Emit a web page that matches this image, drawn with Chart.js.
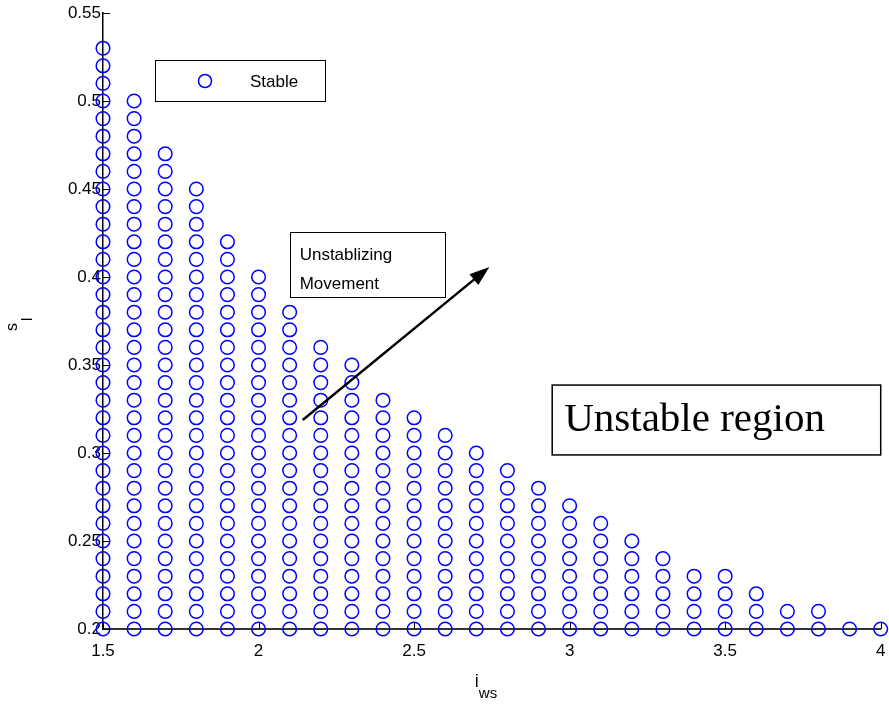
<!DOCTYPE html>
<html>
<head>
<meta charset="utf-8">
<script src="https://cdn.jsdelivr.net/npm/chart.js@4/dist/chart.umd.min.js"></script>
<style>
  body { margin: 0; background: #fff; }
  canvas { display: block; }
</style>
</head>
<body>
<canvas id="graph" width="889" height="704"></canvas>
<script>
// i_ws columns and the highest stable s_l in each one
const iwsValues = [1.5, 1.6, 1.7, 1.8, 1.9, 2.0, 2.1, 2.2, 2.3, 2.4, 2.5, 2.6, 2.7,
                   2.8, 2.9, 3.0, 3.1, 3.2, 3.3, 3.4, 3.5, 3.6, 3.7, 3.8, 3.9, 4.0];
const slTop = [0.53, 0.50, 0.47, 0.45, 0.42, 0.40, 0.38, 0.36, 0.35, 0.33, 0.32, 0.31, 0.30,
               0.29, 0.28, 0.27, 0.26, 0.25, 0.24, 0.23, 0.23, 0.22, 0.21, 0.21, 0.20, 0.20];
const slBottom = 0.20;
const slStep = 0.01;   // grid spacing of the stable points

const xTicks = [1.5, 2, 2.5, 3, 3.5, 4];
const yTicks = [0.2, 0.25, 0.3, 0.35, 0.4, 0.45, 0.5, 0.55];

const legendLabel = 'Stable';
const arrowText = ['Unstablizing', 'Movement'];
const regionText = 'Unstable region';

// scatter points: every grid point from the bottom up to each column's top
const points = [];
iwsValues.forEach(function (x, i) {
  const n = Math.round((slTop[i] - slBottom) / slStep);
  for (let k = 0; k <= n; k++) {
    points.push({ x: x, y: +(slBottom + k * slStep).toFixed(2) });
  }
});

const BLUE = '#0000ff';
const SANS = '"Liberation Sans", Arial, sans-serif';
const SERIF = '"Liberation Serif", "Times New Roman", serif';

const extras = {
  id: 'extras',
  afterDraw: function (chart) {
    const c = chart.ctx;
    const xs = chart.scales.x, ys = chart.scales.y;
    const a = chart.chartArea;
    const px = v => xs.getPixelForValue(v);
    const py = v => ys.getPixelForValue(v);
    c.save();

    // inward tick marks
    c.strokeStyle = '#000';
    c.lineWidth = 1;
    yTicks.forEach(function (v) {
      const y = Math.round(py(v)) + 0.5;
      c.beginPath(); c.moveTo(a.left, y); c.lineTo(a.left + 7, y); c.stroke();
    });
    xTicks.forEach(function (v) {
      const x = Math.round(px(v)) + 0.5;
      c.beginPath(); c.moveTo(x, a.bottom); c.lineTo(x, a.bottom - 7); c.stroke();
    });

    // axis titles
    c.fillStyle = '#000';
    c.textBaseline = 'alphabetic';
    c.font = '18px ' + SANS;
    c.textAlign = 'left';
    const tx = (a.left + a.right) / 2 - 17;
    c.fillText('i', tx, 687);
    c.font = '15px ' + SANS;
    c.fillText('ws', tx + 4, 698);

    c.save();
    c.translate(17, 331);
    c.rotate(-Math.PI / 2);
    c.font = '16px ' + SANS;
    c.fillText('s', 0, 0);
    c.font = '15px ' + SANS;
    c.fillText('l', 10, 15);
    c.restore();

    // legend box
    c.fillStyle = '#fff';
    c.fillRect(155.5, 60.5, 170, 41);
    c.strokeStyle = '#000';
    c.lineWidth = 1;
    c.strokeRect(155.5, 60.5, 170, 41);
    c.strokeStyle = BLUE;
    c.lineWidth = 1.5;
    c.beginPath(); c.arc(205, 81, 6.5, 0, Math.PI * 2); c.stroke();
    c.fillStyle = '#000';
    c.font = '17px ' + SANS;
    c.textBaseline = 'middle';
    c.fillText(legendLabel, 250, 82);

    // "Unstablizing Movement" box
    const bx1 = px(2.100), bx2 = px(2.598), by1 = py(0.4256), by2 = py(0.3886);
    c.fillStyle = '#fff';
    c.fillRect(bx1, by1, bx2 - bx1, by2 - by1);
    c.strokeStyle = '#000';
    c.lineWidth = 1;
    c.strokeRect(Math.round(bx1) + 0.5, Math.round(by1) + 0.5, Math.round(bx2 - bx1), Math.round(by2 - by1));
    c.fillStyle = '#000';
    c.font = '17px ' + SANS;
    c.fillText(arrowText[0], bx1 + 10, by1 + 23);
    c.fillText(arrowText[1], bx1 + 10, by1 + 52);

    // arrow
    const ax1 = px(2.142), ay1 = py(0.3188), ax2 = px(2.742), ay2 = py(0.4057);
    const ang = Math.atan2(ay2 - ay1, ax2 - ax1);
    const hl = 20, hw = 7;
    c.strokeStyle = '#000';
    c.lineWidth = 2.5;
    c.beginPath();
    c.moveTo(ax1, ay1);
    c.lineTo(ax2 - hl * 0.8 * Math.cos(ang), ay2 - hl * 0.8 * Math.sin(ang));
    c.stroke();
    c.beginPath();
    c.moveTo(ax2, ay2);
    c.lineTo(ax2 - hl * Math.cos(ang) + hw * Math.sin(ang), ay2 - hl * Math.sin(ang) - hw * Math.cos(ang));
    c.lineTo(ax2 - hl * Math.cos(ang) - hw * Math.sin(ang), ay2 - hl * Math.sin(ang) + hw * Math.cos(ang));
    c.closePath();
    c.fillStyle = '#000';
    c.fill();

    // "Unstable region" box
    const rx1 = px(2.944), rx2 = px(4.0), ry1 = py(0.3386), ry2 = py(0.2989);
    c.fillStyle = '#fff';
    c.fillRect(rx1, ry1, rx2 - rx1, ry2 - ry1);
    c.strokeStyle = '#000';
    c.lineWidth = 1.5;
    c.strokeRect(rx1, ry1, rx2 - rx1, ry2 - ry1);
    c.fillStyle = '#000';
    c.font = '41px ' + SERIF;
    c.textBaseline = 'alphabetic';
    c.fillText(regionText, rx1 + 12, ry1 + 46);

    c.restore();
  }
};

const ctx = document.getElementById('graph');

new Chart(ctx, {
  type: 'scatter',
  data: {
    datasets: [{
      label: legendLabel,
      data: points,
      pointStyle: 'circle',
      pointRadius: 6.8,
      pointHoverRadius: 6.8,
      pointBorderWidth: 1.5,
      borderColor: BLUE,
      backgroundColor: 'rgba(0,0,0,0)',
      clip: false
    }]
  },
  options: {
    responsive: false,
    animation: false,
    events: [],
    layout: { padding: { left: 0, right: 7, top: 13, bottom: 0 } },
    plugins: {
      legend: { display: false },
      tooltip: { enabled: false }
    },
    scales: {
      x: {
        type: 'linear',
        min: 1.5,
        max: 4,
        afterBuildTicks: function (s) { s.ticks = xTicks.map(v => ({ value: v })); },
        afterFit: function (s) { s.height = 75; s.paddingLeft = 0; s.paddingRight = 0; },
        grid: { display: false, drawTicks: false },
        border: { display: true, color: '#333', width: 2 },
        ticks: {
          color: '#000',
          font: { family: SANS, size: 17 },
          padding: 12,
          maxRotation: 0,
          callback: v => String(+v.toFixed(2))
        }
      },
      y: {
        type: 'linear',
        min: 0.2,
        max: 0.55,
        afterBuildTicks: function (s) { s.ticks = yTicks.map(v => ({ value: v })); },
        afterFit: function (s) { s.width = 103; s.paddingTop = 0; s.paddingBottom = 0; },
        grid: { display: false, drawTicks: false },
        border: { display: true, color: '#000', width: 1.5 },
        ticks: {
          color: '#000',
          font: { family: SANS, size: 17 },
          padding: 2,
          callback: v => String(+v.toFixed(2))
        }
      }
    }
  },
  plugins: [extras]
});
</script>
</body>
</html>
